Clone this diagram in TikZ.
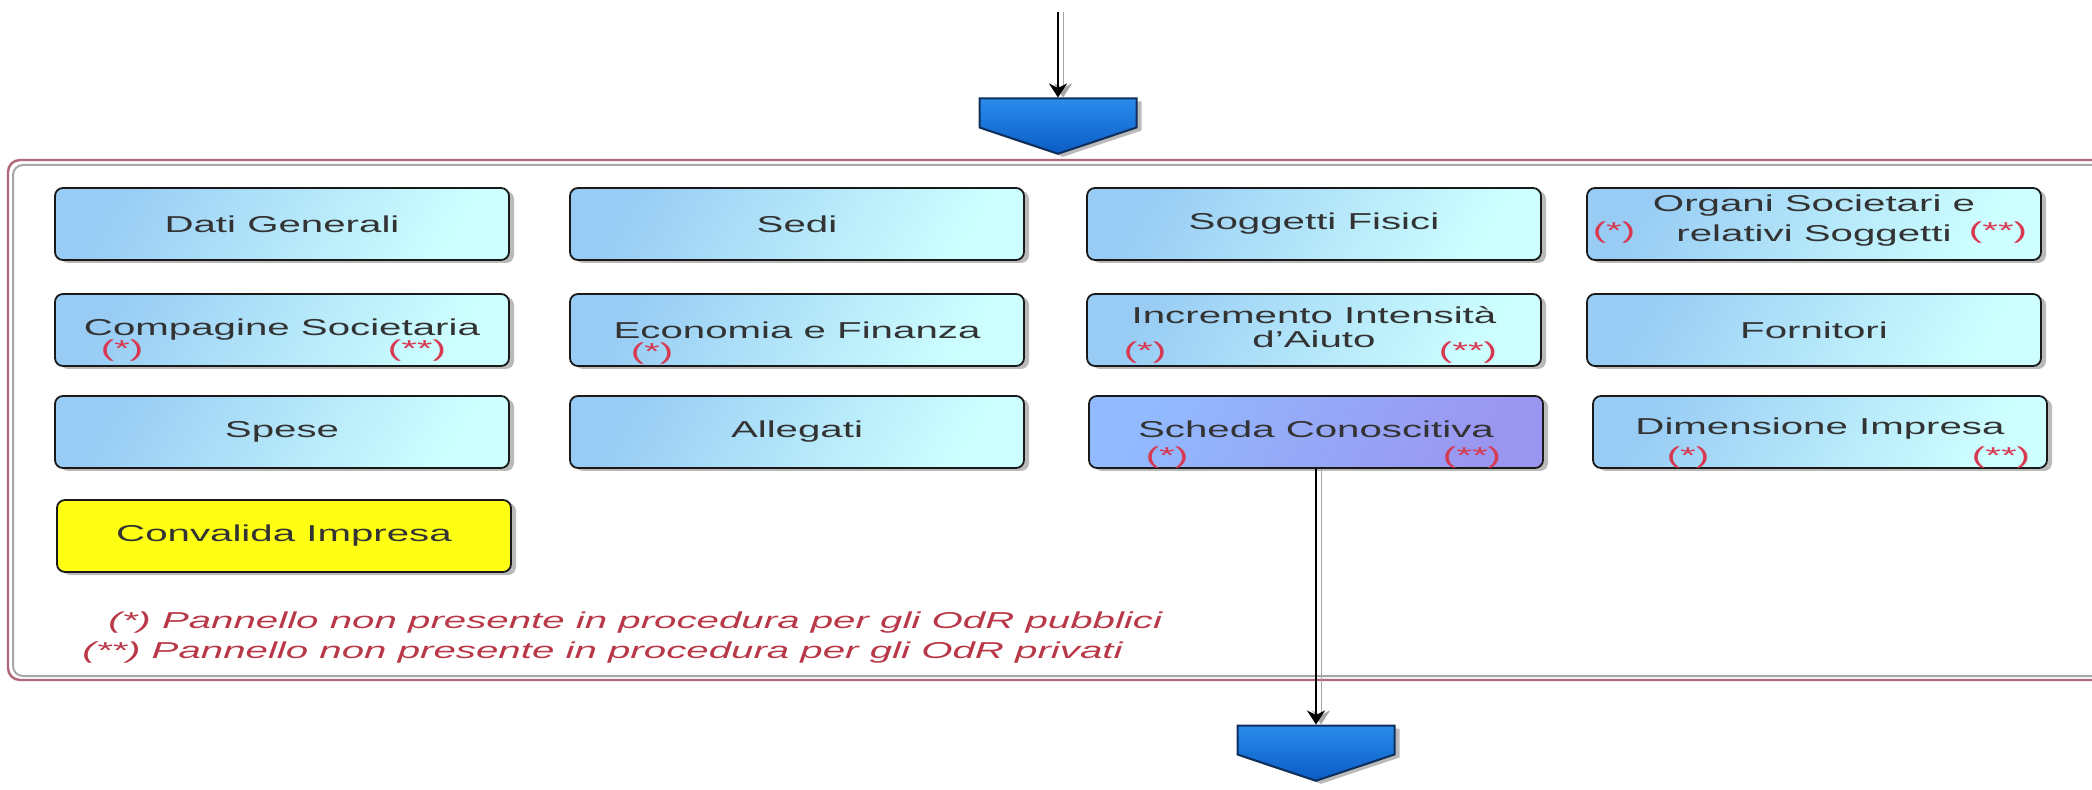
\documentclass[tikz,border=0pt]{standalone}
\usepackage{fontspec}
\setmainfont{Liberation Sans}[FakeStretch=1.75]
\usepackage{tikz}
\usetikzlibrary{positioning, shapes.symbols, shadows, arrows.meta}

\definecolor{panelblue}{HTML}{98CCF4}
\definecolor{panelcyan}{HTML}{CEFFFF}
\definecolor{schedatop}{HTML}{92BAFF}
\definecolor{schedabot}{HTML}{9A96F0}
\definecolor{convyellow}{HTML}{FFFF14}
\definecolor{capblue}{HTML}{2A8CEC}
\definecolor{capdark}{HTML}{0A5CC4}
\definecolor{capline}{HTML}{0E2E5C}
\definecolor{framered}{HTML}{B06878}
\definecolor{notered}{HTML}{B83848}
\definecolor{starcol}{HTML}{D83850}

\newcommand{\lifted}[1]{\raisebox{1.5pt}[\height][\depth]{#1}}

\begin{document}
\begin{tikzpicture}[x=0.5pt, y=-0.5pt, font=\fontsize{11.5}{15}\selectfont,
    box/.style={rectangle, draw=black!90, line width=0.9pt, rounded corners=4pt,
      minimum width=227pt, minimum height=36pt, inner sep=0pt, text=black!80,
      drop shadow={shadow xshift=2.5pt, shadow yshift=-1.5pt, fill=black!45, opacity=0.6}},
    panel/.style={box, top color=panelblue, bottom color=panelcyan, shading angle=60},
    scheda/.style={box, top color=schedatop, bottom color=schedabot, shading angle=60},
    convalida/.style={box, fill=convyellow},
    capshape/.style={signal, signal to=south, signal pointer angle=143, draw=capline, line width=1pt,
      minimum width=78.5pt, minimum height=14.5pt, inner sep=0pt,
      top color=capblue, bottom color=capdark,
      drop shadow={shadow xshift=2.5pt, shadow yshift=-1.5pt, fill=black!45, opacity=0.6}},
    asterisk/.style={text=starcol, inner sep=0pt},
    remark/.style={text=notered, inner sep=0pt, anchor=west, font=\fontsize{11.5}{15}\selectfont\itshape},
    flow/.style={draw=black, line width=1.2pt, -{Stealth[length=7pt, width=9pt]},
      preaction={draw=black!35, transform canvas={xshift=2.5pt}}}]
  \useasboundingbox (0,0) rectangle (2092,790);

  % frame
  \draw[black!35, line width=1pt, rounded corners=5pt] (2092,165) -- (13,165) -- (13,676) -- (2092,676);
  \draw[framered, line width=1.2pt, rounded corners=6pt] (2092,160) -- (8,160) -- (8,680) -- (2092,680);

  \coordinate (entry) at (1058,12);
  \node[capshape] (cap1) at (1058,113) {};

  \node[panel] (dati) at (282,224) {Dati Generali};
  \node[panel] (sedi) at (797,224) {Sedi};
  \node[panel] (fisici) at (1314,224) {Soggetti Fisici};
  \node[panel] (organi) at (1814,224) {\lifted{\begin{tabular}{@{}c@{}}Organi Societari e\\relativi Soggetti\end{tabular}}};

  \node[panel] (compagine) at (282,330) {Compagine Societaria};
  \node[panel] (economia) at (797,330) {Economia e Finanza};
  \node[panel] (incremento) at (1314,330) {\begin{tabular}{@{}c@{}}Incremento Intensità\\[-3pt]d'Aiuto\end{tabular}};
  \node[panel] (fornitori) at (1814,330) {Fornitori};

  \node[panel] (spese) at (282,432) {Spese};
  \node[panel] (allegati) at (797,432) {Allegati};
  \node[scheda] (schedaC) at (1316,432) {\lifted{Scheda Conoscitiva}};
  \node[panel] (dimensione) at (1820,432) {\lifted{Dimensione Impresa}};

  \node[convalida] (convalidaI) at (284,536) {Convalida Impresa};

  % asterischi
  \node[asterisk] (organi-a) at (1614,233) {(*)};
  \node[asterisk] (organi-b) at (1998,233) {(**)};
  \node[asterisk] (compagine-a) at (122,351) {(*)};
  \node[asterisk] (compagine-b) at (417,351) {(**)};
  \node[asterisk] (economia-a) at (652,354) {(*)};
  \node[asterisk] (incremento-a) at (1145,353) {(*)};
  \node[asterisk] (incremento-b) at (1468,353) {(**)};
  \node[asterisk] (schedaC-a) at (1167,458) {(*)};
  \node[asterisk] (schedaC-b) at (1472,458) {(**)};
  \node[asterisk] (dimensione-a) at (1688,458) {(*)};
  \node[asterisk] (dimensione-b) at (2001,458) {(**)};

  \node[remark] (note1) at (108,623) {(*) Pannello non presente in procedura per gli OdR pubblici};
  \node[remark] (note2) at (82,653) {(**) Pannello non presente in procedura per gli OdR privati};

  \node[capshape] (cap2) at (1316,740) {};

  \path (entry) edge[flow] (cap1);
  \path (schedaC) edge[flow] (cap2);
\end{tikzpicture}
\end{document}
